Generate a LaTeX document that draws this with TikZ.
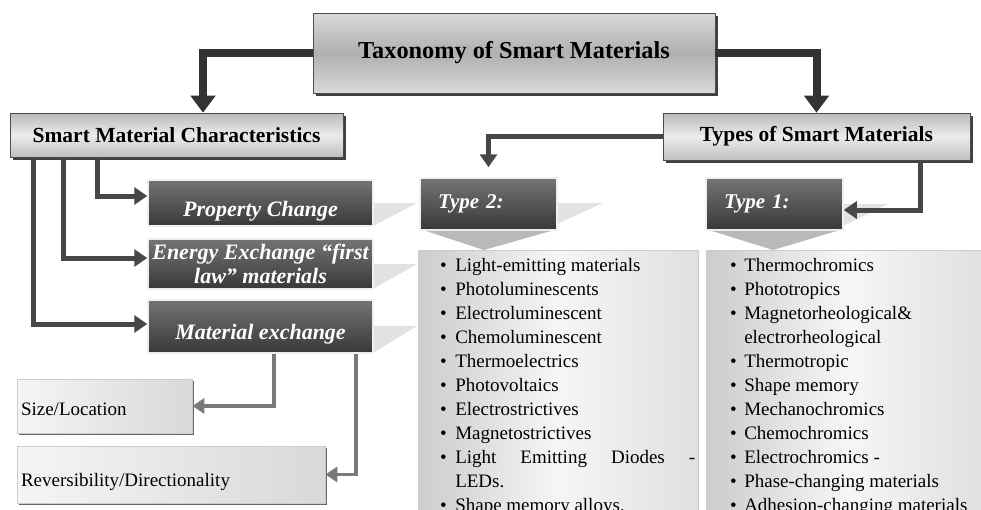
\documentclass[tikz,border=0pt]{standalone}
\usepackage{fontspec}
\setmainfont{Liberation Serif}
\usetikzlibrary{arrows.meta,shadows}

\definecolor{taxarrow}{HTML}{333333}
\definecolor{taxlink}{HTML}{474747}
\definecolor{taxfaint}{HTML}{7A7A7A}
\definecolor{darktop}{HTML}{747474}
\definecolor{darkbot}{HTML}{383838}
\definecolor{taxwedge}{HTML}{E2E2E2}

\begin{document}
\begin{tikzpicture}[
  x=1pt,
  y=-1pt,
  line join=miter,
  headbox/.style={draw=gray!60!black,line width=0.6pt,inner sep=0pt,
    top color=gray!55,bottom color=gray!50,middle color=gray!15,
    drop shadow={shadow xshift=2.5pt,shadow yshift=-2.5pt,fill=black,opacity=0.75},
    font=\fontsize{21.5}{24}\selectfont\bfseries},
  titlebox/.style={headbox,top color=gray!30,bottom color=gray!30,middle color=gray!62,
    font=\fontsize{24.3}{28}\selectfont\bfseries},
  darkbox/.style={draw=gray!12,line width=1.5pt,inner sep=0pt,text=white,
    top color=darktop,bottom color=darkbot,align=center,
    font=\fontsize{22}{24}\selectfont\bfseries\itshape},
  lowtext/.style={text height=#1,text depth=1pt},
  typebox/.style={darkbox,inner xsep=18pt,text width=101pt,align=left,
    font=\fontsize{21}{24}\selectfont\bfseries\itshape},
  lightbox/.style={draw=gray!40,line width=0.6pt,inner xsep=4pt,align=left,
    left color=gray!8,right color=gray!30,
    drop shadow={shadow xshift=1.5pt,shadow yshift=-2pt,fill=black,opacity=0.6},
    font=\fontsize{19}{22}\selectfont},
  listbox/.style={draw=gray!40,line width=0.6pt,
    left color=gray!40,right color=gray!25,middle color=gray!7},
  listtext/.style={inner sep=0pt,anchor=north west,font=\fontsize{19}{24}\selectfont},
  chevron/.style={fill=gray!55},
  sidewedge/.style={fill=taxwedge},
  mainarrow/.style={draw=taxarrow,line width=8pt,-{Triangle[length=17pt,width=24pt]}},
  linkarrow/.style={draw=taxlink,line width=5pt,-{Triangle[length=13pt,width=17pt]}},
  faintarrow/.style={draw=taxfaint,line width=3.5pt,-{Triangle[length=12pt,width=15pt]}}
]
  % Frame of the original figure, lists run off its lower edge.
  \useasboundingbox (0,0) rectangle (981,509);
  \clip (0,0) rectangle (981,509);

  % Faint callout wedges behind the dark boxes.
  \foreach \xa/\xb/\ya/\yb in {373/417/203/226,373/417/264/289,373/417/326/353,
      557/603/203/224,843/888/204/226} {
    \fill[sidewedge] (\xa,\ya) -- (\xb,\ya) -- (\xa,\yb) -- cycle;
  }

  % Header boxes.
  \node[titlebox,minimum width=402pt,minimum height=80pt] (title) at (514,53)
    {Taxonomy of Smart Materials};
  \node[headbox,minimum width=333pt,minimum height=44pt] (smc) at (176.5,135)
    {Smart Material Characteristics};
  \node[headbox,minimum width=307pt,minimum height=47pt] (types) at (816.5,136.5)
    {Types of Smart Materials};

  % Characteristic boxes.
  \node[darkbox,lowtext=27pt,minimum width=225pt,minimum height=46pt] (prop) at (260.5,203)
    {Property Change};
  \node[darkbox,minimum width=225pt,minimum height=50pt] (energy) at (260.5,264)
    {Energy Exchange “first\\law” materials};
  \node[darkbox,lowtext=27pt,minimum width=225pt,minimum height=53pt] (matex) at (260.5,326.5)
    {Material exchange};
  \node[lightbox,lowtext=19pt,minimum width=175pt,minimum height=54pt,text width=167pt] (size)
    at (104.5,406) {Size/Location};
  \node[lightbox,lowtext=25pt,minimum width=308pt,minimum height=57pt,text width=300pt] (rev)
    at (171,474.5) {Reversibility/Directionality};

  % List panels under the two type tabs.
  \node[listbox,minimum width=280pt,minimum height=280pt] (panel2) at (558,390) {};
  \node[listbox,minimum width=284pt,minimum height=280pt] (panel1) at (848,390) {};
  \node[typebox,minimum width=137pt,minimum height=52pt] (type2) at (488.5,204) {Type 2:};
  \node[typebox,minimum width=137pt,minimum height=52pt] (type1) at (774.5,204) {Type 1:};
  \coordinate (tip2) at (484,250);
  \coordinate (tip1) at (773,250);
  \fill[chevron] ([xshift=6pt]type2.south west) -- ([xshift=-6pt]type2.south east) -- (tip2) -- cycle;
  \fill[chevron] ([xshift=6pt]type1.south west) -- ([xshift=-6pt]type1.south east) -- (tip1) -- cycle;

  \node[listtext] (list2) at (440,254) {\begin{tabular}{@{}l@{\hspace{8.4pt}}l@{}}
    \textbullet & Light-emitting materials\\
    \textbullet & Photoluminescents\\
    \textbullet & Electroluminescent\\
    \textbullet & Chemoluminescent\\
    \textbullet & Thermoelectrics\\
    \textbullet & Photovoltaics\\
    \textbullet & Electrostrictives\\
    \textbullet & Magnetostrictives\\
    \textbullet & \makebox[240pt][s]{Light Emitting Diodes -}\\
                & LEDs.\\
    \textbullet & Shape memory alloys.
  \end{tabular}};
  \node[listtext] (list1) at (730,254) {\begin{tabular}{@{}l@{\hspace{7.4pt}}l@{}}
    \textbullet & Thermochromics\\
    \textbullet & Phototropics\\
    \textbullet & Magnetorheological\&\\
                & electrorheological\\
    \textbullet & Thermotropic\\
    \textbullet & Shape memory\\
    \textbullet & Mechanochromics\\
    \textbullet & Chemochromics\\
    \textbullet & Electrochromics -\\
    \textbullet & Phase-changing materials\\
    \textbullet & Adhesion-changing materials
  \end{tabular}};

  % Connectors.
  \draw[mainarrow] (title.west) -| ([xshift=26.5pt]smc.north);
  \draw[mainarrow] (title.east) -| (types.north);
  \draw[linkarrow,shorten >=10pt] (types.west) -| (type2.north);
  \draw[linkarrow] ([xshift=103.5pt]types.south) |- ([yshift=-6pt]type1.east);
  \draw[linkarrow] ([xshift=-79.5pt]smc.south) |- ([yshift=7pt]prop.west);
  \draw[linkarrow] ([xshift=-113.5pt]smc.south) |- ([yshift=6pt]energy.west);
  \draw[linkarrow] ([xshift=-143.5pt]smc.south) |- ([yshift=2.5pt]matex.west);
  \draw[faintarrow] ([xshift=13.5pt]matex.south) |- (size.east);
  \draw[faintarrow] ([xshift=95.5pt]matex.south) |- (rev.east);
\end{tikzpicture}
\end{document}
